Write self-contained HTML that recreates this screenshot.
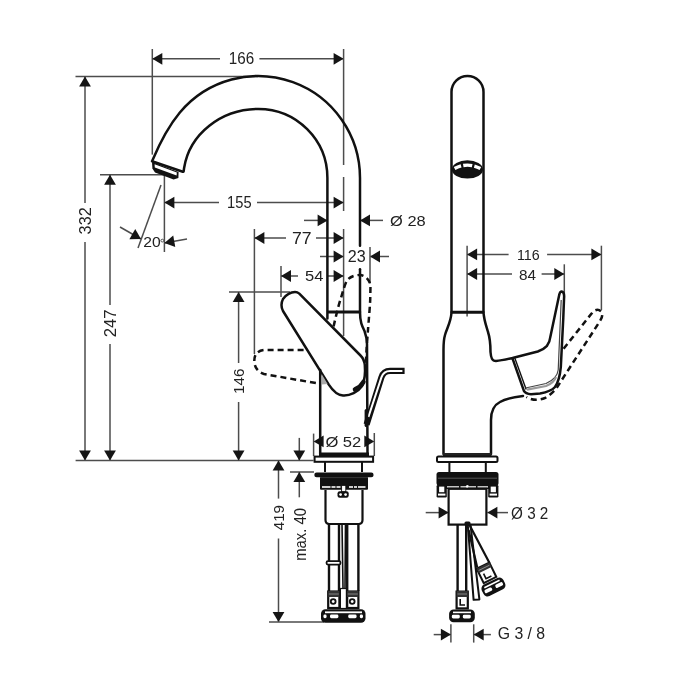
<!DOCTYPE html>
<html><head><meta charset="utf-8"><style>
html,body{margin:0;padding:0;background:#fff;}
svg{display:block;font-family:"Liberation Sans",sans-serif;will-change:transform;}
</style></head><body>
<svg width="700" height="700" viewBox="0 0 700 700">
<rect width="700" height="700" fill="#fff"/>
<line x1="152.3" y1="49" x2="152.3" y2="154.6" stroke="#4d4d4d" stroke-width="1.5" fill="none"/>
<line x1="152.3" y1="58.8" x2="220" y2="58.8" stroke="#4d4d4d" stroke-width="1.5" fill="none"/>
<line x1="259.4" y1="58.8" x2="343.6" y2="58.8" stroke="#4d4d4d" stroke-width="1.5" fill="none"/>
<polygon points="152.3,58.8 162.3,52.9 162.3,64.7" fill="#151515"/>
<polygon points="343.6,58.8 333.6,64.7 333.6,52.9" fill="#151515"/>
<text transform="translate(228.86,64.44) scale(0.9449,1)" font-size="16.11" fill="#222">166</text>
<line x1="343.6" y1="49" x2="343.6" y2="165" stroke="#4d4d4d" stroke-width="1.5" fill="none"/>
<line x1="343.6" y1="177" x2="343.6" y2="211" stroke="#4d4d4d" stroke-width="1.5" fill="none"/>
<line x1="343.6" y1="229" x2="343.6" y2="336" stroke="#4d4d4d" stroke-width="1.5" fill="none"/>
<line x1="75.5" y1="76.4" x2="258" y2="76.4" stroke="#4d4d4d" stroke-width="1.5" fill="none"/>
<line x1="85" y1="76.4" x2="85" y2="203" stroke="#4d4d4d" stroke-width="1.5" fill="none"/>
<line x1="85" y1="242" x2="85" y2="460.6" stroke="#4d4d4d" stroke-width="1.5" fill="none"/>
<polygon points="85,76.4 90.9,86.4 79.1,86.4" fill="#151515"/>
<polygon points="85,460.6 79.1,450.6 90.9,450.6" fill="#151515"/>
<text transform="translate(90.83,234.41) rotate(-90) scale(0.9590,1)" font-size="16.96" fill="#222">332</text>
<line x1="100" y1="174.7" x2="164.4" y2="174.7" stroke="#4d4d4d" stroke-width="1.5" fill="none"/>
<line x1="110" y1="174.7" x2="110" y2="305" stroke="#4d4d4d" stroke-width="1.5" fill="none"/>
<line x1="110" y1="344" x2="110" y2="460.6" stroke="#4d4d4d" stroke-width="1.5" fill="none"/>
<polygon points="110,174.7 115.9,184.7 104.1,184.7" fill="#151515"/>
<polygon points="110,460.6 104.1,450.6 115.9,450.6" fill="#151515"/>
<text transform="translate(116.1,337.23) rotate(-90) scale(0.9805,1)" font-size="16.92" fill="#222">247</text>
<line x1="75.6" y1="460.6" x2="313.6" y2="460.6" stroke="#4d4d4d" stroke-width="1.5" fill="none"/>
<line x1="164.4" y1="175" x2="164.4" y2="252" stroke="#4d4d4d" stroke-width="1.5" fill="none"/>
<line x1="161" y1="185" x2="138" y2="248" stroke="#4d4d4d" stroke-width="1.5" fill="none"/>
<line x1="120" y1="227" x2="141" y2="239" stroke="#4d4d4d" stroke-width="1.5" fill="none"/>
<polygon points="141,239 129.39,239.16 135.24,228.92" fill="#151515"/>
<line x1="187" y1="239" x2="164.4" y2="243" stroke="#4d4d4d" stroke-width="1.5" fill="none"/>
<polygon points="164.4,243 173.22,235.45 175.28,247.07" fill="#151515"/>
<text transform="translate(143.32,247.25) scale(1.0251,1)" font-size="15.27" fill="#222">20</text>
<circle cx="162.3" cy="240.6" r="1.4" fill="none" stroke="#444" stroke-width="0.9"/>
<line x1="164.4" y1="202.6" x2="219" y2="202.6" stroke="#4d4d4d" stroke-width="1.5" fill="none"/>
<line x1="257" y1="202.6" x2="343.6" y2="202.6" stroke="#4d4d4d" stroke-width="1.5" fill="none"/>
<polygon points="164.4,202.6 174.4,196.7 174.4,208.5" fill="#151515"/>
<polygon points="343.6,202.6 333.6,208.5 333.6,196.7" fill="#151515"/>
<text transform="translate(227.1,208.34) scale(0.8907,1)" font-size="16.49" fill="#222">155</text>
<line x1="304" y1="220.4" x2="327.6" y2="220.4" stroke="#4d4d4d" stroke-width="1.5" fill="none"/>
<polygon points="327.6,220.4 317.6,226.3 317.6,214.5" fill="#151515"/>
<line x1="360" y1="220.4" x2="383" y2="220.4" stroke="#4d4d4d" stroke-width="1.5" fill="none"/>
<polygon points="360,220.4 370,214.5 370,226.3" fill="#151515"/>
<text transform="translate(390.08,225.62) scale(1.0954,1)" font-size="15.00" fill="#222">Ø 28</text>
<line x1="254.4" y1="229" x2="254.4" y2="354" stroke="#4d4d4d" stroke-width="1.5" fill="none"/>
<line x1="254.4" y1="238" x2="286" y2="238" stroke="#4d4d4d" stroke-width="1.5" fill="none"/>
<line x1="316" y1="238" x2="343.6" y2="238" stroke="#4d4d4d" stroke-width="1.5" fill="none"/>
<polygon points="254.4,238 264.4,232.1 264.4,243.9" fill="#151515"/>
<polygon points="343.6,238 333.6,243.9 333.6,232.1" fill="#151515"/>
<text transform="translate(291.97,243.6) scale(1.1042,1)" font-size="16.00" fill="#222">77</text>
<line x1="320" y1="256.5" x2="343.6" y2="256.5" stroke="#4d4d4d" stroke-width="1.5" fill="none"/>
<polygon points="343.6,256.5 333.6,262.4 333.6,250.6" fill="#151515"/>
<line x1="370" y1="256.5" x2="389" y2="256.5" stroke="#4d4d4d" stroke-width="1.5" fill="none"/>
<polygon points="370,256.5 380,250.6 380,262.4" fill="#151515"/>
<line x1="370" y1="247" x2="370" y2="283.4" stroke="#4d4d4d" stroke-width="1.5" fill="none"/>
<text transform="translate(347.79,262.44) scale(1.0182,1)" font-size="15.83" fill="#222">23</text>
<line x1="281" y1="266" x2="281" y2="297" stroke="#4d4d4d" stroke-width="1.5" fill="none"/>
<line x1="281" y1="276" x2="298" y2="276" stroke="#4d4d4d" stroke-width="1.5" fill="none"/>
<line x1="328" y1="276" x2="343.6" y2="276" stroke="#4d4d4d" stroke-width="1.5" fill="none"/>
<polygon points="281,276 291,270.1 291,281.9" fill="#151515"/>
<polygon points="343.6,276 333.6,281.9 333.6,270.1" fill="#151515"/>
<text transform="translate(305.04,280.75) scale(1.0755,1)" font-size="15.34" fill="#222">54</text>
<line x1="229" y1="292" x2="290" y2="292" stroke="#4d4d4d" stroke-width="1.5" fill="none"/>
<line x1="238.6" y1="292" x2="238.6" y2="363" stroke="#4d4d4d" stroke-width="1.5" fill="none"/>
<line x1="238.6" y1="402" x2="238.6" y2="460.6" stroke="#4d4d4d" stroke-width="1.5" fill="none"/>
<polygon points="238.6,292 244.5,302 232.7,302" fill="#151515"/>
<polygon points="238.6,460.6 232.7,450.6 244.5,450.6" fill="#151515"/>
<text transform="translate(244.44,394.04) rotate(-90) scale(0.9793,1)" font-size="15.55" fill="#222">146</text>
<line x1="313.6" y1="433.6" x2="313.6" y2="456" stroke="#4d4d4d" stroke-width="1.5" fill="none"/>
<line x1="374.3" y1="433" x2="374.3" y2="456" stroke="#4d4d4d" stroke-width="1.5" fill="none"/>
<polygon points="313.6,441.4 323.6,435.5 323.6,447.3" fill="#151515"/>
<polygon points="374.3,441.4 364.3,447.3 364.3,435.5" fill="#151515"/>
<text transform="translate(325.38,447.13) scale(1.1158,1)" font-size="14.86" fill="#222">Ø 52</text>
<line x1="299.3" y1="437.9" x2="299.3" y2="460.6" stroke="#4d4d4d" stroke-width="1.5" fill="none"/>
<polygon points="299.3,460.6 293.4,450.6 305.2,450.6" fill="#151515"/>
<line x1="290" y1="472" x2="314" y2="472" stroke="#4d4d4d" stroke-width="1.5" fill="none"/>
<line x1="299.3" y1="472" x2="299.3" y2="497.3" stroke="#4d4d4d" stroke-width="1.5" fill="none"/>
<polygon points="299.3,472 305.2,482 293.4,482" fill="#151515"/>
<text transform="translate(305.54,560.81) rotate(-90) scale(0.9411,1)" font-size="15.83" fill="#222">max. 40</text>
<line x1="278.5" y1="460.6" x2="278.5" y2="498.6" stroke="#4d4d4d" stroke-width="1.5" fill="none"/>
<line x1="278.5" y1="538.5" x2="278.5" y2="622" stroke="#4d4d4d" stroke-width="1.5" fill="none"/>
<polygon points="278.5,460.6 284.4,470.6 272.6,470.6" fill="#151515"/>
<polygon points="278.5,622 272.6,612 284.4,612" fill="#151515"/>
<line x1="269" y1="622" x2="324" y2="622" stroke="#4d4d4d" stroke-width="1.5" fill="none"/>
<text transform="translate(284.44,530.14) rotate(-90) scale(0.9688,1)" font-size="15.55" fill="#222">419</text>
<path d="M360,245.7 L360,178 A102,102 0 0 0 179.86,112.44 C168.4,126.2 159.8,142.9 152.6,160" stroke="#111" stroke-width="2.5" fill="none" stroke-linejoin="round" stroke-linecap="round"/>
<path d="M360,269.3 L360,312" stroke="#111" stroke-width="2.5" fill="none" stroke-linejoin="round" stroke-linecap="round"/>
<path d="M327.4,318.6 L327.4,178 A69,69 0 0 0 258.4,109 A75,69 0 0 0 184.1,168 L183.6,171.5" stroke="#111" stroke-width="2.5" fill="none" stroke-linejoin="round" stroke-linecap="round"/>
<path d="M152,161.2 L182.8,171.8" stroke="#111" stroke-width="2.5" fill="none" stroke-linejoin="round" stroke-linecap="round"/>
<polygon points="152,162 178.6,172 178.4,178 173.6,179.6 155,172.6 152.4,168.6" fill="#111"/>
<polygon points="154.6,164.2 176.8,172.6 176.6,175.4 154.8,167.6" fill="#fff"/>
<line x1="327.6" y1="312" x2="360" y2="312" stroke="#111" stroke-width="3"/>
<path d="M360,312 C360,322 362,326 364.5,331 C366,335 366.8,339 367,344 L367.5,454" stroke="#111" stroke-width="2.5" fill="none" stroke-linejoin="round" stroke-linecap="round"/>
<path d="M320.2,370 L320.2,454" stroke="#111" stroke-width="2.5" fill="none" stroke-linejoin="round" stroke-linecap="round"/>
<rect x="319" y="452.5" width="50" height="3.5" fill="#111"/>
<path d="M295,292 C290,292 286,295 283,299 C281,303 281,307 283,311 L328.8,384.6 C333,391 338,395.2 343,395.5 C350,396 358,392 362,386 C365,380 365.4,372 364.8,365 C364.3,360 363,358 360.5,355.5 L299.3,293.6 C298,292.5 297,292 295,292 Z" stroke="#111" stroke-width="2.5" fill="none" stroke-linejoin="round" stroke-linecap="round"/>
<path d="M303.6,350 L264,350 C256,351 254,356 254.3,362 C255,368 258,372 264,374 L321,384" stroke="#111" stroke-width="2.5" fill="none" stroke-dasharray="6 4"/>
<path d="M333.6,326.4 C335.5,318 338.5,305 341,298 C343,291 345,284 347,280.5 C350,276.5 355,275 360,275 C365,275.5 369,279 370.5,285 L370.2,300 C369.5,315 367,336 365.8,365" stroke="#111" stroke-width="2.5" fill="none" stroke-dasharray="6 4"/>
<path d="M366.6,424.5 L381.4,377.4 C382.8,373.2 386,370.9 390,370.9 L404.6,370.9" stroke="#111" stroke-width="6.2" fill="none" stroke-linejoin="round"/>
<path d="M368.4,417 L381.4,377.4 C382.8,373.2 386,370.9 390,370.9 L402.4,370.9" stroke="#fff" stroke-width="2" fill="none" stroke-linejoin="round"/>
<rect x="364.6" y="409" width="3.6" height="18" rx="1.5" fill="#111"/>
<path d="M355,389.4 C358.5,388 361.5,385.5 363.4,382" stroke="#111" stroke-width="4.6" stroke-linecap="round" fill="none"/>
<polygon points="321.6,374 327.6,384 321.6,384.6" fill="#aaa"/>
<rect x="314.6" y="456.6" width="58.5" height="5.2" fill="none" stroke="#111" stroke-width="2"/>
<path d="M325,462 L325,472 M362,462 L362,472" stroke="#111" stroke-width="2" fill="none"/>
<rect x="314.3" y="472.6" width="59.3" height="4.6" rx="2.3" fill="#111"/>
<rect x="320" y="477" width="48" height="12.8" rx="1" fill="#111"/>
<line x1="321" y1="477.6" x2="367" y2="477.6" stroke="#444" stroke-width="0.8"/>
<line x1="322" y1="487" x2="330.5" y2="487" stroke="#fff" stroke-width="1.6"/>
<line x1="331.5" y1="487" x2="335.5" y2="487" stroke="#fff" stroke-width="1.6"/>
<line x1="336.5" y1="487" x2="340.5" y2="487" stroke="#fff" stroke-width="1.6"/>
<line x1="349" y1="487" x2="353" y2="487" stroke="#fff" stroke-width="1.6"/>
<line x1="354" y1="487" x2="357" y2="487" stroke="#fff" stroke-width="1.6"/>
<line x1="358" y1="487" x2="365.5" y2="487" stroke="#fff" stroke-width="1.6"/>
<rect x="341.6" y="485.4" width="4.2" height="6.4" fill="#fff" stroke="#111" stroke-width="0.9"/>
<rect x="337.5" y="491.2" width="11.2" height="6.6" rx="2.2" fill="#111"/>
<circle cx="340.6" cy="494.6" r="1.4" fill="#fff"/><circle cx="345.6" cy="494.6" r="1.4" fill="#fff"/>
<path d="M325.5,490 L325.5,520 Q325.5,524 329.5,524 L358.5,524 Q362.5,524 362.5,520 L362.5,490" fill="none" stroke="#111" stroke-width="2.2"/>
<path d="M329,524 L329,591 M339,524 L339,591 M347.2,524 L347.2,591 M358.4,524 L358.4,591" stroke="#111" stroke-width="2.4" fill="none"/>
<path d="M342,524 L343,588 M345.5,524 L345,588" stroke="#111" stroke-width="1.6" fill="none"/>
<rect x="326.5" y="561.2" width="14" height="3.4" rx="1.5" fill="#fff" stroke="#111" stroke-width="1.8"/>
<rect x="328.2" y="591.5" width="11.2" height="16.5" fill="#fff" stroke="#111" stroke-width="2.2"/>
<rect x="328.2" y="591" width="11.2" height="6" fill="#333"/>
<line x1="328.8" y1="594" x2="338.8" y2="594" stroke="#999" stroke-width="0.8"/>
<circle cx="333.2" cy="601.5" r="2.4" fill="#fff" stroke="#111" stroke-width="1.8"/>
<rect x="347.2" y="591.5" width="11.2" height="16.5" fill="#fff" stroke="#111" stroke-width="2.2"/>
<rect x="347.2" y="591" width="11.2" height="6" fill="#333"/>
<line x1="347.8" y1="594" x2="357.8" y2="594" stroke="#999" stroke-width="0.8"/>
<circle cx="352.2" cy="601.5" r="2.4" fill="#fff" stroke="#111" stroke-width="1.8"/>
<rect x="340.4" y="588.5" width="6" height="20" fill="#fff" stroke="#111" stroke-width="1.2"/>
<rect x="321" y="609.3" width="44.5" height="13.4" rx="4.5" fill="#111"/>
<rect x="325" y="611.4" width="37" height="1.8" fill="#fff"/>
<rect x="323.4" y="614.6" width="3.2" height="3.6" rx="1.4" fill="#fff"/>
<rect x="330" y="614.6" width="8.4" height="3.6" rx="1.4" fill="#fff"/>
<rect x="348.2" y="614.6" width="8.4" height="3.6" rx="1.4" fill="#fff"/>
<rect x="359.8" y="614.6" width="3.2" height="3.6" rx="1.4" fill="#fff"/>
<line x1="467.1" y1="245.7" x2="467.1" y2="316.5" stroke="#4d4d4d" stroke-width="1.5" fill="none"/>
<line x1="601.4" y1="245.7" x2="601.4" y2="310" stroke="#4d4d4d" stroke-width="1.5" fill="none"/>
<line x1="467.1" y1="254.4" x2="508.6" y2="254.4" stroke="#4d4d4d" stroke-width="1.5" fill="none"/>
<line x1="547.1" y1="254.4" x2="601.4" y2="254.4" stroke="#4d4d4d" stroke-width="1.5" fill="none"/>
<polygon points="467.1,254.4 477.1,248.5 477.1,260.3" fill="#151515"/>
<polygon points="601.4,254.4 591.4,260.3 591.4,248.5" fill="#151515"/>
<text transform="translate(516.93,260.45) scale(0.9414,1)" font-size="15.12" fill="#222">116</text>
<line x1="564.3" y1="264.3" x2="564.3" y2="298.6" stroke="#4d4d4d" stroke-width="1.5" fill="none"/>
<line x1="467.1" y1="274" x2="512" y2="274" stroke="#4d4d4d" stroke-width="1.5" fill="none"/>
<line x1="541.6" y1="274" x2="564.3" y2="274" stroke="#4d4d4d" stroke-width="1.5" fill="none"/>
<polygon points="467.1,274 477.1,268.1 477.1,279.9" fill="#151515"/>
<polygon points="564.3,274 554.3,279.9 554.3,268.1" fill="#151515"/>
<text transform="translate(519.05,279.65) scale(1.0109,1)" font-size="15.12" fill="#222">84</text>
<line x1="425.7" y1="512.6" x2="448.6" y2="512.6" stroke="#4d4d4d" stroke-width="1.5" fill="none"/>
<polygon points="448.6,512.6 438.6,518.5 438.6,506.7" fill="#151515"/>
<line x1="487.4" y1="512.6" x2="508" y2="512.6" stroke="#4d4d4d" stroke-width="1.5" fill="none"/>
<polygon points="487.4,512.6 497.4,506.7 497.4,518.5" fill="#151515"/>
<text transform="translate(511.03,518.51) scale(0.9741,1)" font-size="15.68" fill="#222">Ø 3 2</text>
<line x1="450.9" y1="624.3" x2="450.9" y2="642.6" stroke="#4d4d4d" stroke-width="1.5" fill="none"/>
<line x1="473.7" y1="624.3" x2="473.7" y2="642.6" stroke="#4d4d4d" stroke-width="1.5" fill="none"/>
<line x1="433.7" y1="634.6" x2="450.9" y2="634.6" stroke="#4d4d4d" stroke-width="1.5" fill="none"/>
<polygon points="450.9,634.6 440.9,640.5 440.9,628.7" fill="#151515"/>
<line x1="473.7" y1="634.6" x2="490.9" y2="634.6" stroke="#4d4d4d" stroke-width="1.5" fill="none"/>
<polygon points="473.7,634.6 483.7,628.7 483.7,640.5" fill="#151515"/>
<text transform="translate(497.71,639.04) scale(0.9939,1)" font-size="15.92" fill="#222">G 3 / 8</text>
<path d="M451.5,312 L451.5,92 A16,16 0 0 1 483.5,92 L483.5,312" stroke="#111" stroke-width="2.5" fill="none" stroke-linejoin="round" stroke-linecap="round"/>
<ellipse cx="467.4" cy="169.4" rx="15.6" ry="9.2" fill="#111"/>
<path d="M454.6,168.6 Q467.5,161.6 480.4,168.6" stroke="#fff" stroke-width="3.4" fill="none" stroke-dasharray="7 2.2 9 2.2 9"/>
<line x1="451.5" y1="312.3" x2="483.5" y2="312.3" stroke="#111" stroke-width="3"/>
<path d="M451.5,312.3 C451,322 447,328 445,335 C443.5,340 443.5,344 443.5,350 L443.5,454" stroke="#111" stroke-width="2.5" fill="none" stroke-linejoin="round" stroke-linecap="round"/>
<path d="M483.5,312.3 C484,320 486,325 488,332 C490,338 490.5,345 490.5,352 C491,358 492,361 496,361 C502,360.5 510,358.5 512.5,358 L537.8,351.5 C542,350 545,348 547,345.8 C549,343 550,340 550.2,337.5 L559.2,294.9 C559.8,292.5 560.6,291.6 561.6,291.6 C563,291.8 564.3,293.5 564.1,297 L563.3,317.8 L560.8,367.1 C560,376 558.5,382 555,387 C552,390.5 548,392 540,393.5 L531,394.2 C527,394 525,393 523.9,390.9 L512.4,358.1" stroke="#111" stroke-width="2.5" fill="none" stroke-linejoin="round" stroke-linecap="round"/>
<path d="M523,396 C515,397 505,399 500,402 C494,405 491,410 491,420 L491,454" stroke="#111" stroke-width="2.5" fill="none" stroke-linejoin="round" stroke-linecap="round"/>
<path d="M514.8,358 L526.2,389.5" stroke="#111" stroke-width="1.4" fill="none"/>
<path d="M561.2,300 L558.2,370 C557.5,376 554,380 546,383.5 L525.5,388" stroke="#444" stroke-width="1.2" fill="none"/>
<path d="M527,389.6 L546,386 C551,384 554.5,381 556,377" stroke="#999" stroke-width="2.2" fill="none"/>
<path d="M563.6,348.7 L592,313 C595,309 599,309 601.5,312 C603,315 602,318 600,321 L558,385.8 C555,391 550,395 545,398 C540,400 533,401 526.4,397" stroke="#111" stroke-width="2.5" fill="none" stroke-dasharray="6 4"/>
<rect x="443" y="453" width="48.5" height="3" fill="#222"/>
<rect x="437" y="456.6" width="60.5" height="5.4" rx="1.5" fill="none" stroke="#111" stroke-width="2"/>
<path d="M449.4,462 L449.4,472 M485.8,462 L485.8,472" stroke="#111" stroke-width="2" fill="none"/>
<rect x="436.5" y="472" width="62" height="13.5" rx="2.5" fill="#111"/>
<rect x="446" y="485" width="43" height="4" fill="#111"/>
<line x1="438" y1="478.2" x2="497" y2="478.2" stroke="#555" stroke-width="1"/>
<line x1="447" y1="486.9" x2="488" y2="486.9" stroke="#fff" stroke-width="1.4" stroke-dasharray="12 1.5 7 1.5 7 1.5 12"/>
<circle cx="467.4" cy="486.4" r="1.5" fill="#fff"/>
<rect x="436.6" y="485" width="10.2" height="12.4" rx="1.2" fill="#111"/>
<rect x="439.1" y="486.6" width="5.2" height="5.6" fill="#fff"/>
<rect x="438" y="493.6" width="7.4" height="2" fill="#fff"/>
<rect x="488.2" y="485" width="10.2" height="12.4" rx="1.2" fill="#111"/>
<rect x="490.7" y="486.6" width="5.2" height="5.6" fill="#fff"/>
<rect x="489.6" y="493.6" width="7.4" height="2" fill="#fff"/>
<rect x="448.6" y="488.8" width="37.8" height="35.8" fill="#fff" stroke="#111" stroke-width="2.2"/>
<path d="M457.6,525 L457.6,592 M466.2,525 L466.2,592" stroke="#111" stroke-width="2.4" fill="none"/>
<rect x="456.6" y="591.6" width="11.2" height="16.8" fill="#fff" stroke="#111" stroke-width="2.2"/>
<rect x="456.6" y="591" width="11.2" height="6" fill="#333"/>
<line x1="457.5" y1="594" x2="467" y2="594" stroke="#999" stroke-width="0.8"/>
<path d="M460.2,599 L460.2,605 L465,605" stroke="#111" stroke-width="1.6" fill="none"/>
<rect x="449.1" y="609.5" width="25.7" height="12.8" rx="4.5" fill="#111"/>
<rect x="453" y="611.6" width="18" height="1.6" fill="#fff"/>
<rect x="451.8" y="614.8" width="8" height="3.6" rx="1.4" fill="#fff"/><rect x="462.8" y="614.8" width="8" height="3.6" rx="1.4" fill="#fff"/>
<polygon points="467.8,525 470.5,525 479.4,599.4 473.6,599.8" fill="#fff" stroke="#111" stroke-width="2" stroke-linejoin="round"/>
<path d="M468.6,530 L477.2,567.6 M469.5,525 L489.5,563" stroke="#111" stroke-width="2.2" fill="none"/>
<g transform="translate(483,565.6) rotate(-26)"><rect x="-7" y="0" width="14" height="16" fill="#fff" stroke="#111" stroke-width="2"/><rect x="-7" y="0" width="14" height="5" fill="#333"/><line x1="-6" y1="2.5" x2="6" y2="2.5" stroke="#999" stroke-width="0.8"/><path d="M-3,7.5 L-3,13 L3,13" stroke="#111" stroke-width="1.6" fill="none"/><rect x="-12" y="17.5" width="24" height="12.6" rx="4.5" fill="#111"/><rect x="-8.5" y="19.6" width="17" height="1.6" fill="#fff"/><rect x="-10" y="22.8" width="8" height="3.6" rx="1.4" fill="#fff"/><rect x="2" y="22.8" width="8" height="3.6" rx="1.4" fill="#fff"/></g>
<rect x="464.5" y="521.5" width="6" height="4" rx="1.5" fill="#111"/>
</svg></body></html>
